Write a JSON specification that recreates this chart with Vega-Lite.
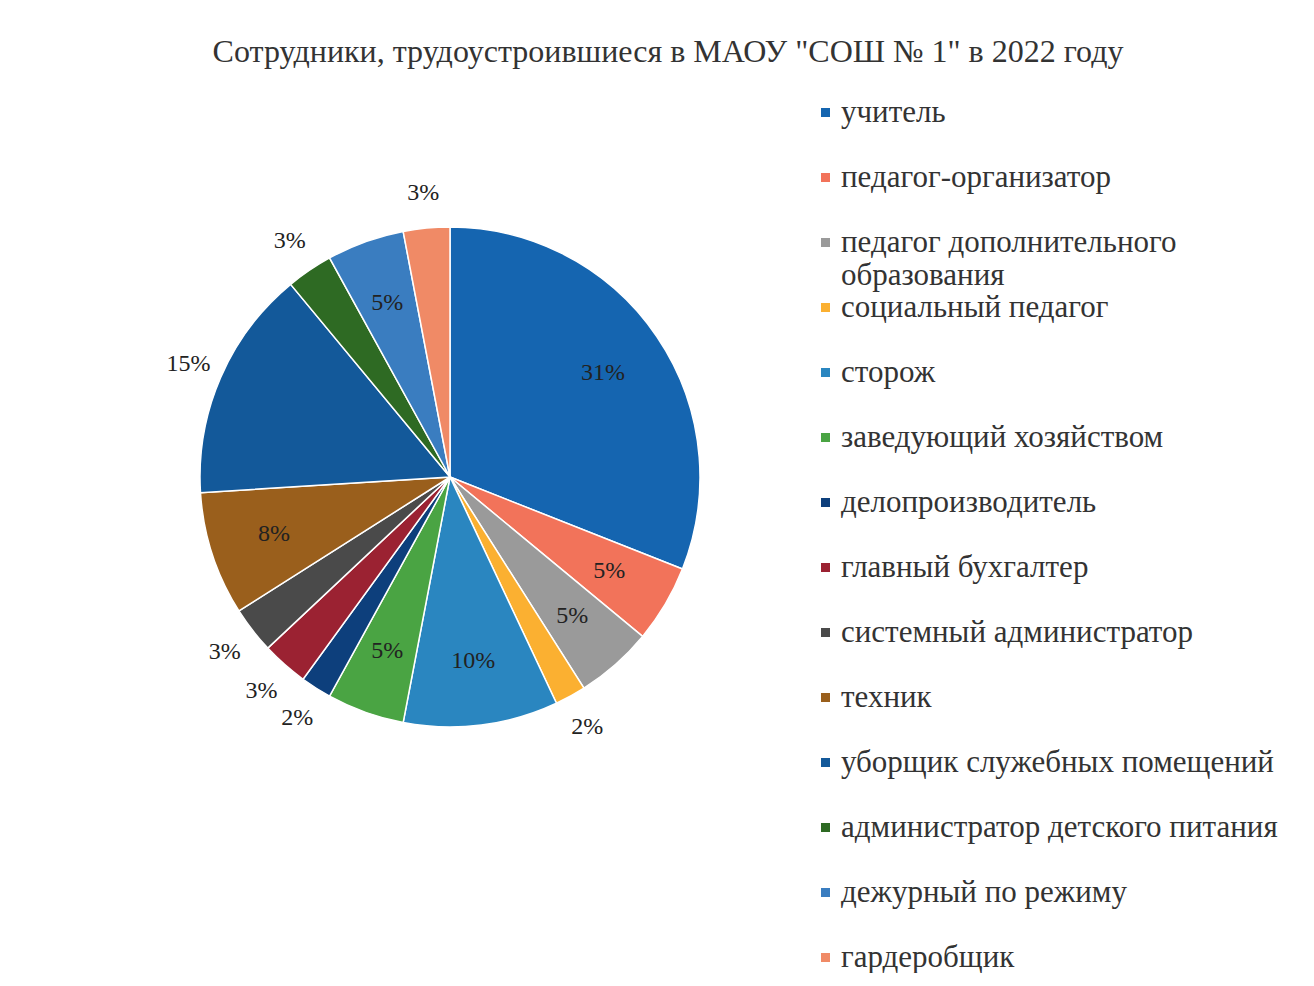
{
  "$schema": "https://vega.github.io/schema/vega-lite/v6.json",
  "width": 900,
  "height": 800,
  "padding": {"top": 36, "left": 0, "right": 0, "bottom": 0},
  "background": "white",
  "title": {
    "text": "Сотрудники, трудоустроившиеся в МАОУ \"СОШ № 1\" в 2022 году",
    "font": "Liberation Serif",
    "fontSize": 32,
    "fontWeight": "normal",
    "color": "#333333",
    "anchor": "middle",
    "dx": 218,
    "offset": 8
  },
  "data": {
    "values": [
      {"i": 1, "category": "учитель", "share": 0.31},
      {"i": 2, "category": "педагог-организатор", "share": 0.05},
      {"i": 3, "category": "педагог дополнительного образования", "share": 0.05},
      {"i": 4, "category": "социальный педагог", "share": 0.02},
      {"i": 5, "category": "сторож", "share": 0.10},
      {"i": 6, "category": "заведующий хозяйством", "share": 0.05},
      {"i": 7, "category": "делопроизводитель", "share": 0.02},
      {"i": 8, "category": "главный бухгалтер", "share": 0.03},
      {"i": 9, "category": "системный администратор", "share": 0.03},
      {"i": 10, "category": "техник", "share": 0.08},
      {"i": 11, "category": "уборщик служебных помещений", "share": 0.15},
      {"i": 12, "category": "администратор детского питания", "share": 0.03},
      {"i": 13, "category": "дежурный по режиму", "share": 0.05},
      {"i": 14, "category": "гардеробщик", "share": 0.03}
    ]
  },
  "encoding": {
    "theta": {"field": "share", "type": "quantitative", "stack": true},
    "order": {"field": "i", "type": "quantitative"}
  },
  "layer": [
    {
      "mark": {"type": "arc", "outerRadius": 250, "stroke": "#ffffff", "strokeWidth": 1.5},
      "encoding": {
        "color": {
          "field": "category",
          "type": "nominal",
          "scale": {
            "domain": ["учитель", "педагог-организатор", "педагог дополнительного образования", "социальный педагог", "сторож", "заведующий хозяйством", "делопроизводитель", "главный бухгалтер", "системный администратор", "техник", "уборщик служебных помещений", "администратор детского питания", "дежурный по режиму", "гардеробщик"],
            "range": ["#1565b0", "#f2735a", "#9a9a9a", "#fbb031", "#2a86c0", "#4aa443", "#0d3f7c", "#9b2232", "#4a4a4a", "#9a5f1c", "#13599a", "#2e6a23", "#3a7dc0", "#f08a66"]
          },
          "legend": {
            "title": null,
            "orient": "none",
            "legendX": 810,
            "legendY": 20,
            "symbolType": "square",
            "symbolSize": 81,
            "symbolStrokeWidth": 0,
            "labelFont": "Liberation Serif",
            "labelFontSize": 31,
            "labelColor": "#333333",
            "labelLimit": 600,
            "labelOffset": 0,
            "rowPadding": 0,
            "gridAlign": "all",
            "labelExpr": "datum.label == 'педагог дополнительного образования' ? ['педагог дополнительного', 'образования'] : datum.label"
          }
        }
      }
    },
    {
      "mark": {"type": "text", "radius": 185, "font": "Liberation Serif", "fontSize": 24, "color": "#222222"},
      "encoding": {
        "text": {
          "condition": {"test": "datum.share < 0.05 || datum.category == 'уборщик служебных помещений'", "value": ""},
          "field": "share", "type": "quantitative", "format": ".0%"
        }
      }
    },
    {
      "mark": {"type": "text", "radius": 285, "font": "Liberation Serif", "fontSize": 24, "color": "#222222"},
      "encoding": {
        "text": {
          "condition": {"test": "datum.share >= 0.05 && datum.category != 'уборщик служебных помещений'", "value": ""},
          "field": "share", "type": "quantitative", "format": ".0%"
        }
      }
    }
  ]
}
